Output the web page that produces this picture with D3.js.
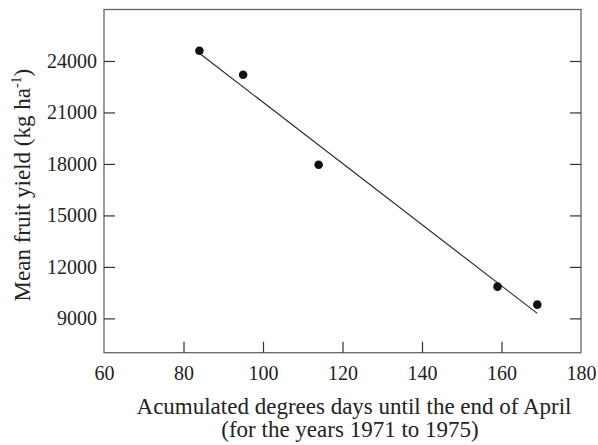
<!DOCTYPE html>
<html><head><meta charset="utf-8">
<script src="https://cdn.jsdelivr.net/npm/d3@7"></script>
<style>body{margin:0;background:#fff}svg{display:block}text{font-family:"Liberation Serif","Times New Roman",serif;fill:#222}</style>
</head><body>
<svg id="c" width="598" height="445"></svg>
<script>
const degreeDays = [84, 95, 114, 159, 169];
const fruitYield = [24600, 23200, 17950, 10850, 9800];
const xTicks = [60, 80, 100, 120, 140, 160, 180];
const yTicks = [9000, 12000, 15000, 18000, 21000, 24000];

const W = 598, H = 445;
const m = {l: 104, r: 17, t: 9.5, b: 92.3};
const svg = d3.select("#c");
const x = d3.scaleLinear().domain([60, 180]).range([m.l, W - m.r]);
const y = d3.scaleLinear().domain([7000, 27000]).range([H - m.b, m.t]);
const fs = 20, ts = 23;

svg.append("rect").attr("x", x(60)).attr("y", y(27000))
  .attr("width", x(180) - x(60)).attr("height", y(7000) - y(27000))
  .attr("fill", "none").attr("stroke", "#666").attr("stroke-width", 1.3);

const tl = 11;
const gx = svg.append("g").attr("transform", `translate(0,${y(7000)})`)
  .call(d3.axisBottom(x).tickValues(xTicks).tickSize(-tl).tickPadding(13).tickFormat(d3.format("d")));
const gy = svg.append("g").attr("transform", `translate(${x(60)},0)`)
  .call(d3.axisLeft(y).tickValues(yTicks).tickSize(-tl).tickPadding(7).tickFormat(d3.format("d")));
const gy2 = svg.append("g").attr("transform", `translate(${x(180)},0)`)
  .call(d3.axisRight(y).tickValues(yTicks).tickSize(-tl).tickFormat(""));
[gx, gy, gy2].forEach(g => {
  g.select(".domain").remove();
  g.selectAll(".tick line").attr("stroke", "#333").attr("stroke-width", 1.2);
  g.selectAll(".tick text").attr("font-size", fs).attr("font-family", "Liberation Serif").attr("fill", "#222");
});
gx.selectAll(".tick").filter(d => d === 60 || d === 180).select("line").remove();

const n = degreeDays.length;
const mx = d3.mean(degreeDays), my = d3.mean(fruitYield);
let sxy = 0, sxx = 0;
for (let i = 0; i < n; i++) { sxy += (degreeDays[i] - mx) * (fruitYield[i] - my); sxx += (degreeDays[i] - mx) ** 2; }
const b = sxy / sxx, a = my - b * mx;
const x0 = d3.min(degreeDays), x1 = d3.max(degreeDays);
svg.append("line").attr("x1", x(x0)).attr("y1", y(a + b * x0)).attr("x2", x(x1)).attr("y2", y(a + b * x1))
  .attr("stroke", "#222").attr("stroke-width", 1.1);

svg.append("g").selectAll("circle").data(degreeDays).join("circle")
  .attr("cx", d => x(d)).attr("cy", (d, i) => y(fruitYield[i])).attr("r", 4.3).attr("fill", "#111");

svg.append("text").attr("x", 354).attr("y", 414).attr("text-anchor", "middle").attr("font-size", ts)
  .text("Acumulated degrees days until the end of April");
svg.append("text").attr("x", 350).attr("y", 437).attr("text-anchor", "middle").attr("font-size", ts)
  .text("(for the years 1971 to 1975)");
const yl = svg.append("text").attr("transform", `translate(30,${(y(7000) + y(27000)) / 2 + 4}) rotate(-90)`)
  .attr("text-anchor", "middle").attr("font-size", ts);
yl.append("tspan").text("Mean fruit yield (kg ha");
yl.append("tspan").attr("dy", -9).attr("font-size", 14).text("-1");
yl.append("tspan").attr("dy", 9).text(")");
</script>
</body></html>
